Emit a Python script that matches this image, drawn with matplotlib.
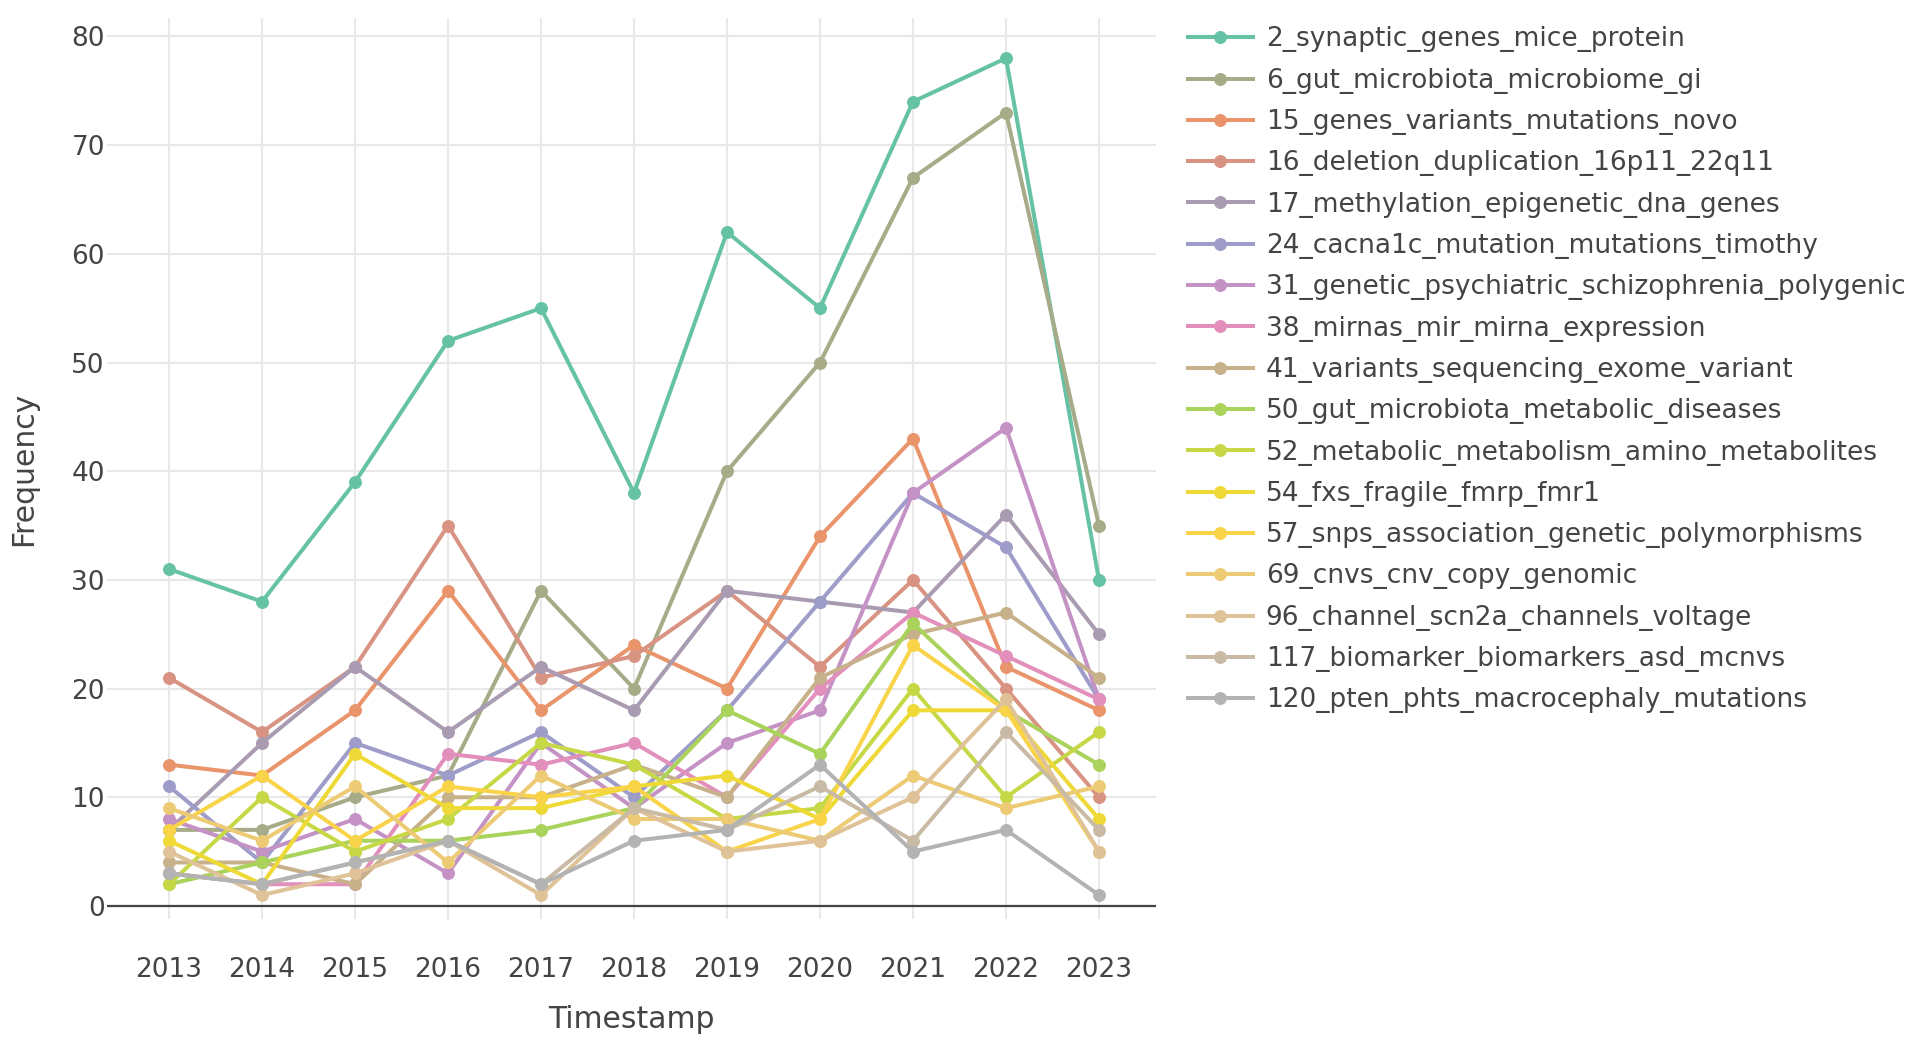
import matplotlib
matplotlib.use("Agg")
import matplotlib.pyplot as plt
import numpy as np

years = [2013, 2014, 2015, 2016, 2017, 2018, 2019, 2020, 2021, 2022, 2023]

labels = [
    "2_synaptic_genes_mice_protein",
    "6_gut_microbiota_microbiome_gi",
    "15_genes_variants_mutations_novo",
    "16_deletion_duplication_16p11_22q11",
    "17_methylation_epigenetic_dna_genes",
    "24_cacna1c_mutation_mutations_timothy",
    "31_genetic_psychiatric_schizophrenia_polygenic",
    "38_mirnas_mir_mirna_expression",
    "41_variants_sequencing_exome_variant",
    "50_gut_microbiota_metabolic_diseases",
    "52_metabolic_metabolism_amino_metabolites",
    "54_fxs_fragile_fmrp_fmr1",
    "57_snps_association_genetic_polymorphisms",
    "69_cnvs_cnv_copy_genomic",
    "96_channel_scn2a_channels_voltage",
    "117_biomarker_biomarkers_asd_mcnvs",
    "120_pten_phts_macrocephaly_mutations",
]

synaptic = [31, 28, 39, 52, 55, 38, 62, 55, 74, 78, 30]
gut = [7, 7, 10, 12, 29, 20, 40, 50, 67, 73, 35]
genes = [13, 12, 18, 29, 18, 24, 20, 34, 43, 22, 18]
deletion = [21, 16, 22, 35, 21, 23, 29, 22, 30, 20, 10]
methylation = [7, 15, 22, 16, 22, 18, 29, 28, 27, 36, 25]
cacna1c = [11, 4, 15, 12, 16, 10, 18, 28, 38, 33, 19]
genetic = [8, 5, 8, 3, 15, 9, 15, 18, 38, 44, 19]
mirnas = [3, 2, 2, 14, 13, 15, 10, 20, 27, 23, 19]
variants = [4, 4, 2, 10, 10, 13, 10, 21, 25, 27, 21]
gut_metabolic = [2, 4, 6, 6, 7, 9, 18, 14, 26, 18, 13]
metabolic = [2, 10, 5, 8, 15, 13, 8, 9, 20, 10, 16]
fxs = [6, 2, 14, 9, 9, 11, 12, 8, 18, 18, 8]
snps = [7, 12, 6, 11, 10, 11, 5, 8, 24, 18, 5]
cnvs = [9, 6, 11, 4, 12, 8, 8, 6, 12, 9, 11]
channel = [5, 1, 3, 6, 1, 9, 5, 6, 10, 19, 5]
biomarker = [3, 2, 4, 6, 2, 9, 7, 11, 6, 16, 7]
pten = [3, 2, 4, 6, 2, 6, 7, 13, 5, 7, 1]

series = [synaptic, gut, genes, deletion, methylation, cacna1c, genetic, mirnas,
          variants, gut_metabolic, metabolic, fxs, snps, cnvs, channel,
          biomarker, pten]

# Set2 palette sampled continuously for 17 traces
set2 = ["#66c2a5", "#fc8d62", "#8da0cb", "#e78ac3", "#a6d854", "#ffd92f",
        "#e5c494", "#b3b3b3"]
set2_rgb = np.array([[int(h[i:i + 2], 16) for i in (1, 3, 5)] for h in set2]) / 255.0
n = len(series)
pos = np.linspace(0, len(set2) - 1, n)
colors = []
for p in pos:
    i = int(np.floor(p))
    if i >= len(set2) - 1:
        colors.append(tuple(set2_rgb[-1]))
        continue
    f = p - i
    colors.append(tuple(set2_rgb[i] * (1 - f) + set2_rgb[i + 1] * f))

W, H = 1908, 1042
fig = plt.figure(figsize=(W / 100, H / 100), dpi=100)
ax = fig.add_axes([107 / W, 1 - 919 / H, (1156 - 107) / W, (919 - 18) / H])

TXT = "#444444"
for vals, lab, col in zip(series, labels, colors):
    ax.plot(years, vals, color=col, linewidth=2.9, marker="o", markersize=8.5,
            markeredgewidth=0.8, label=lab, solid_joinstyle="round")

ax.set_xlim(2012.333, 2023.613)
ax.set_ylim(-1.2, 81.7)
ax.set_xticks(years)
ax.set_yticks(range(0, 81, 10))
ax.grid(True, color="#e8e8e8", linewidth=1.5)
ax.set_axisbelow(True)
ax.axhline(0, color=TXT, linewidth=1.6, zorder=1.5)
for s in ax.spines.values():
    s.set_visible(False)
ax.tick_params(axis="both", length=0, labelsize=19, colors=TXT)
ax.tick_params(axis="x", pad=27.5)
ax.tick_params(axis="y", pad=1.5)
ax.set_xlabel("Timestamp", fontsize=21.5, color=TXT, labelpad=16)
ax.set_ylabel("Frequency", fontsize=21.5, color=TXT, labelpad=24)

handles, labs = ax.get_legend_handles_labels()
leg = fig.legend(handles, labs, loc="upper left", bbox_to_anchor=(1188 / W, 1 - 26.5 / H),
                 frameon=False, fontsize=19, handlelength=2.45, handletextpad=0.5,
                 labelspacing=0.58, borderaxespad=0, borderpad=0)
for t in leg.get_texts():
    t.set_color(TXT)

fig.savefig("out.png", dpi=100)
